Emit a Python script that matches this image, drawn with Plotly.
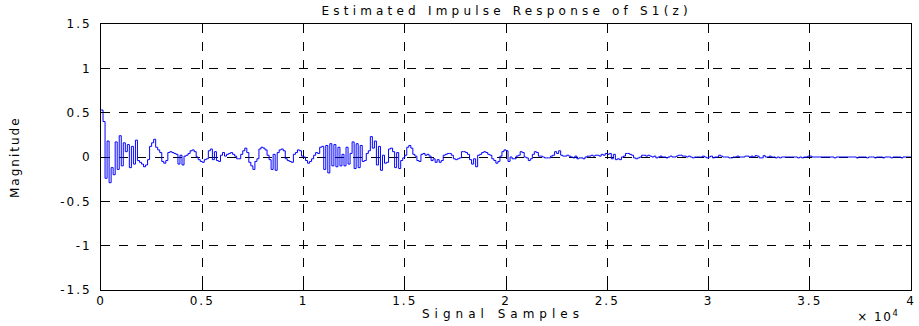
import numpy as np
import plotly.graph_objects as go

# Sample spacing of the read-off values (samples)
STEP = 100

# Magnitude values, one row per 1000 samples
magnitude = [
    0.53, 0.40, -0.24, 0.18, -0.29, -0.12, -0.20, 0.17, -0.14, 0.24,
    -0.10, 0.16, 0.06, 0.14, -0.12, 0.12, -0.08, 0.19, -0.04, -0.06,
    -0.08, -0.11, -0.09, -0.03, 0.12, 0.16, 0.20, 0.11, 0.08, 0.05,
    -0.05, -0.07, -0.04, 0.05, 0.06, 0.05, 0.04, 0.03, -0.08, 0.02,
    -0.09, 0.01, 0.02, 0.04, 0.07, 0.08, 0.06, 0.00, -0.03, -0.05,
    -0.06, -0.03, -0.02, 0.07, 0.09, -0.03, 0.06, -0.04, -0.05, 0.02,
    0.05, 0.01, 0.03, 0.04, 0.05, 0.03, 0.01, -0.02, -0.02, 0.03,
    0.07, 0.10, 0.05, -0.06, -0.10, -0.14, -0.05, -0.02, 0.09, 0.11,
    0.10, 0.08, 0.02, -0.03, -0.14, 0.03, -0.15, 0.05, 0.08, 0.09,
    0.07, -0.02, -0.04, -0.05, -0.06, 0.03, 0.05, 0.08, 0.07, 0.01,
    0.00, -0.04, -0.07, -0.05, -0.02, 0.02, 0.05, 0.04, 0.11, 0.12,
    -0.14, 0.13, -0.18, 0.15, -0.10, 0.14, -0.11, 0.11, -0.10, 0.03,
    -0.10, 0.11, -0.08, 0.04, 0.17, -0.13, 0.15, -0.12, 0.13, -0.05,
    -0.04, 0.04, 0.07, 0.23, 0.10, 0.18, -0.09, 0.12, -0.15, 0.02,
    -0.07, -0.06, 0.09, 0.10, 0.06, -0.12, 0.05, -0.13, -0.04, -0.01,
    0.02, 0.11, 0.13, 0.10, 0.03, 0.01, -0.04, -0.05, 0.03, 0.04,
    0.02, 0.03, 0.01, -0.04, -0.02, -0.06, -0.03, -0.06, -0.04, 0.02,
    0.03, 0.04, 0.04, 0.02, -0.02, -0.03, -0.02, -0.01, 0.06, 0.06,
    0.05, 0.03, -0.03, -0.08, -0.02, -0.11, 0.02, 0.03, 0.05, 0.06,
    0.05, 0.03, 0.02, -0.02, -0.04, -0.07, -0.05, 0.01, 0.06, 0.08,
    0.07, -0.05, 0.00, -0.02, -0.02, 0.01, 0.02, 0.06, 0.05, 0.00,
    -0.01, -0.04, -0.02, 0.03, 0.06, 0.05, 0.01, 0.01, 0.00, -0.01,
    -0.01, -0.01, 0.01, 0.02, 0.06, 0.04, 0.07, 0.02, 0.01, 0.01,
    0.02, 0.01, 0.00, -0.01, 0.01, -0.02, -0.01, -0.01, -0.02, 0.00,
    0.01, 0.01, 0.02, 0.01, 0.02, 0.02, 0.01, 0.03, 0.02, 0.04,
    0.03, 0.04, -0.02, 0.03, -0.03, -0.02, -0.03, 0.00, 0.01, 0.04,
    0.04, 0.03, 0.02, -0.01, -0.02, -0.01, 0.00, 0.02, 0.02, 0.01,
    0.02, 0.01, 0.00, 0.01, -0.01, 0.00, 0.01, 0.00, 0.00, -0.01,
    0.00, 0.01, 0.00, 0.00, 0.01, 0.02, 0.02, 0.01, 0.01, 0.00,
    0.01, 0.00, -0.01, 0.00, 0.00, 0.00, 0.00, 0.01, 0.00, -0.01,
    0.00, 0.01, -0.01, 0.00, 0.00, 0.02, 0.01, 0.00, 0.00, 0.00,
    -0.01, -0.01, 0.00, 0.00, 0.01, 0.00, 0.00, 0.00, 0.01, 0.01,
    0.00, 0.01, 0.00, 0.015, 0.01, -0.01, -0.01, 0.015, 0.00, 0.00,
    0.01, 0.00, 0.00, -0.01, 0.00, -0.01, 0.00, 0.00, 0.00, 0.00,
    0.00, 0.00, 0.00, 0.00, -0.01, 0.00, -0.01, 0.00, 0.00, 0.01,
    0.01, 0.00, 0.00, 0.00, 0.00, 0.00, 0.00, 0.00, 0.00, 0.00,
    0.00, 0.00, -0.01, 0.00, 0.00, 0.00, 0.00, 0.00, 0.00, 0.00,
    0.00, 0.00, 0.00, -0.01, 0.00, 0.00, 0.00, 0.00, -0.01, 0.00,
    0.00, 0.00, -0.01, 0.00, 0.00, 0.00, -0.01, 0.00, 0.00, 0.00,
    -0.01, 0.00, 0.00, 0.00, 0.00, -0.01, 0.00, 0.00, 0.00, 0.00,
]

x_tick_vals = [0, 5000, 10000, 15000, 20000, 25000, 30000, 35000, 40000]
x_tick_text = ["0", "0.5", "1", "1.5", "2", "2.5", "3", "3.5", "4"]
y_tick_vals = [-1.5, -1, -0.5, 0, 0.5, 1, 1.5]
y_tick_text = ["-1.5", "-1", "-0.5", "0", "0.5", "1", "1.5"]

samples = np.arange(len(magnitude)) * STEP
samples = np.append(samples, 40000)
values = magnitude + [magnitude[-1]]

FONT = "DejaVu Sans, Liberation Sans, Arial, sans-serif"

fig = go.Figure()
fig.add_trace(go.Scatter(
    x=samples, y=values, mode="lines",
    line=dict(color="#0000ff", width=1, shape="hv"),
    hoverinfo="skip", showlegend=False,
))

axis_common = dict(
    showline=True, linecolor="black", linewidth=1, mirror="ticks",
    ticks="inside", ticklen=5, tickcolor="black", tickwidth=1,
    showgrid=True, gridcolor="black", gridwidth=1, griddash="dash",
    zeroline=False,
    tickfont=dict(family=FONT, size=12, color="black"),
)

fig.update_xaxes(range=[0, 40000], tickvals=x_tick_vals, ticktext=x_tick_text, **axis_common)
fig.update_yaxes(range=[-1.5, 1.5], tickvals=y_tick_vals, ticktext=y_tick_text,
                 ticklabelstandoff=6, **axis_common)

fig.update_layout(
    width=919, height=326,
    margin=dict(l=101, r=4, t=24, b=36),
    paper_bgcolor="white", plot_bgcolor="white",
    font=dict(family=FONT, size=12, color="black"),
    annotations=[
        dict(text="Estimated Impulse Response of S1(z)", xref="paper", yref="paper",
             x=0.5, y=1, xanchor="center", yanchor="middle", yshift=13,
             showarrow=False, font=dict(family=FONT, size=12)),
        dict(text="Signal Samples", xref="paper", yref="paper",
             x=0.496, y=0, xanchor="center", yanchor="middle", yshift=-24,
             showarrow=False, font=dict(family=FONT, size=12)),
        dict(text="Magnitude", xref="paper", yref="paper", textangle=-90,
             x=0, y=0.5, xanchor="center", yanchor="middle", xshift=-86,
             showarrow=False, font=dict(family=FONT, size=12)),
        dict(text="× 10<sup>4</sup>", xref="paper", yref="paper",
             x=0.959, y=0, xanchor="center", yanchor="middle", yshift=-26,
             showarrow=False, font=dict(family=FONT, size=12)),
    ],
)

post = """
document.body.style.margin = '0';
document.body.style.overflow = 'hidden';
var gd = document.getElementById('{plot_id}');
gd.querySelectorAll('.xtick text, .ytick text').forEach(function (t) {
    t.style.letterSpacing = '2px';
});
var spacing = [4.2, 5, 2, 1.5];
gd.querySelectorAll('g.annotation').forEach(function (a, i) {
    var t = a.querySelector('text');
    if (t) { t.style.letterSpacing = spacing[i] + 'px'; }
});
"""

fig.write_html("out.html", post_script=post, config={"displayModeBar": False})
